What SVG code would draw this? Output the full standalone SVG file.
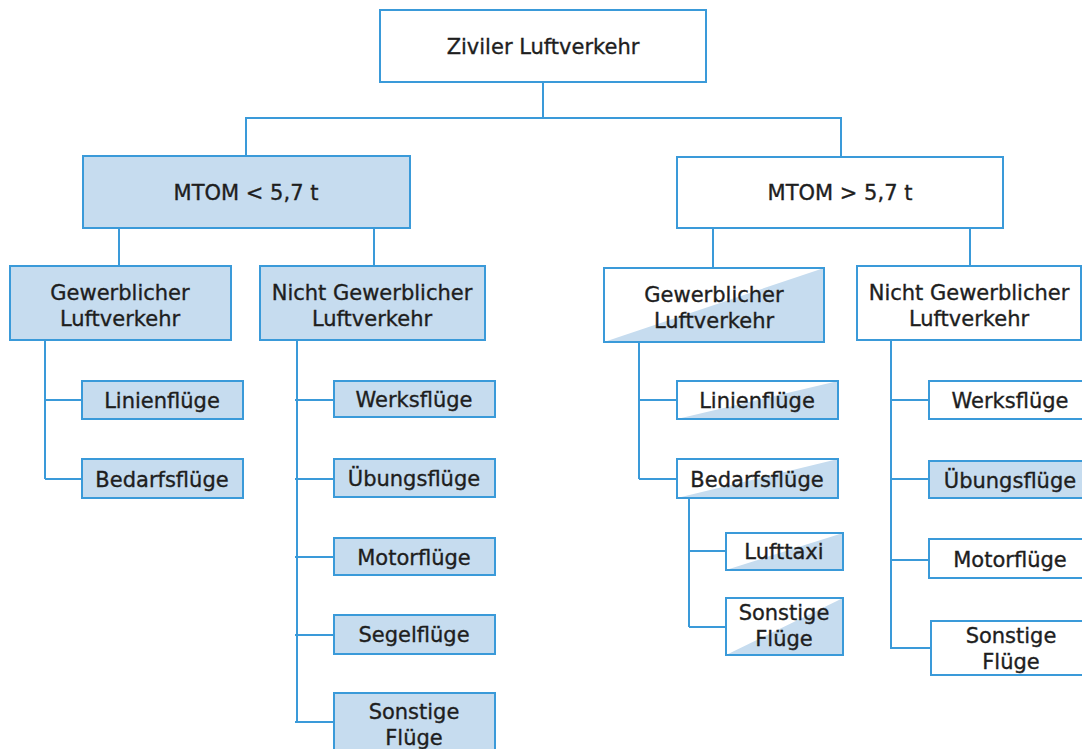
<svg xmlns="http://www.w3.org/2000/svg" width="1082" height="749" viewBox="0 0 1082 749">
<style>
.b{fill:#ffffff;stroke:#3a9ad9;stroke-width:2}
.f{fill:#c6dcef;stroke:#3a9ad9;stroke-width:2}
.o{fill:none;stroke:#3a9ad9;stroke-width:2}
.h{fill:#c6dcef;stroke:none}
.c{fill:none;stroke:#3a9ad9;stroke-width:2}
text{font-family:"DejaVu Sans","Liberation Sans",sans-serif;font-size:21px;fill:#1e1e1e;stroke:#1e1e1e;stroke-width:0.35;text-anchor:middle}
</style>
<rect width="1082" height="749" fill="#ffffff"/>
<g id="connectors">
<path class="c" d="M543 82V118M245 118H842M246 118V156M841 118V157"/>
<path class="c" d="M119 228V266M374 228V266M713 228V268M970 228V266"/>
<path class="c" d="M45 340V479M45 400H82M45 479H82"/>
<path class="c" d="M297 340V722M295 400H334M295 479H334M295 557H334M295 635H334M295 722H334"/>
<path class="c" d="M639 342V479M639 400H677M639 479H677"/>
<path class="c" d="M689 498V627M689 551H726M689 627H726"/>
<path class="c" d="M891 340V649M891 400H929M891 479H929M891 560H929M891 648H931"/>
</g>
<g id="n-root"><rect class="b" x="380" y="10" width="326" height="72"/><text x="543" y="54">Ziviler Luftverkehr</text></g>
<g id="n-mtom-lt"><rect class="f" x="83" y="156" width="327" height="72"/><text x="246" y="200">MTOM &lt; 5,7 t</text></g>
<g id="n-mtom-gt"><rect class="b" x="677" y="157" width="326" height="71"/><text x="840" y="200">MTOM &gt; 5,7 t</text></g>
<g id="n-l-gew"><rect class="f" x="10" y="266" width="221" height="74"/><text x="120" y="300">Gewerblicher</text><text x="120" y="326">Luftverkehr</text></g>
<g id="n-l-nicht"><rect class="f" x="260" y="266" width="225" height="74"/><text x="372" y="300">Nicht Gewerblicher</text><text x="372" y="326">Luftverkehr</text></g>
<g id="n-l-linien"><rect class="f" x="82" y="381" width="161" height="38"/><text x="162" y="408">Linienflüge</text></g>
<g id="n-l-bedarf"><rect class="f" x="82" y="459" width="161" height="39"/><text x="162" y="487">Bedarfsflüge</text></g>
<g id="n-l-werks"><rect class="f" x="334" y="381" width="161" height="36"/><text x="414" y="407">Werksflüge</text></g>
<g id="n-l-uebung"><rect class="f" x="334" y="459" width="161" height="38"/><text x="414" y="486">Übungsflüge</text></g>
<g id="n-l-motor"><rect class="f" x="334" y="538" width="161" height="37"/><text x="414" y="565">Motorflüge</text></g>
<g id="n-l-segel"><rect class="f" x="334" y="615" width="161" height="39"/><text x="414" y="642">Segelflüge</text></g>
<g id="n-l-sonst"><rect class="f" x="334" y="693" width="161" height="70"/><text x="414" y="719">Sonstige</text><text x="414" y="745">Flüge</text></g>
<g id="n-r-gew"><rect fill="#ffffff" x="604" y="268" width="220" height="74"/><polygon class="h" points="604,342 824,268 824,342"/><rect class="o" x="604" y="268" width="220" height="74"/><text x="714" y="302">Gewerblicher</text><text x="714" y="328">Luftverkehr</text></g>
<g id="n-r-nicht"><rect class="b" x="857" y="266" width="224" height="74"/><text x="969" y="300">Nicht Gewerblicher</text><text x="969" y="326">Luftverkehr</text></g>
<g id="n-r-linien"><rect fill="#ffffff" x="677" y="381" width="161" height="38"/><polygon class="h" points="677,419 838,381 838,419"/><rect class="o" x="677" y="381" width="161" height="38"/><text x="757" y="408">Linienflüge</text></g>
<g id="n-r-bedarf"><rect fill="#ffffff" x="677" y="459" width="161" height="39"/><polygon class="h" points="677,498 838,459 838,498"/><rect class="o" x="677" y="459" width="161" height="39"/><text x="757" y="487">Bedarfsflüge</text></g>
<g id="n-r-taxi"><rect fill="#ffffff" x="726" y="533" width="117" height="37"/><polygon class="h" points="726,570 843,533 843,570"/><rect class="o" x="726" y="533" width="117" height="37"/><text x="784" y="559">Lufttaxi</text></g>
<g id="n-r-sonst1"><rect fill="#ffffff" x="726" y="598" width="117" height="57"/><polygon class="h" points="726,655 843,598 843,655"/><rect class="o" x="726" y="598" width="117" height="57"/><text x="784" y="620">Sonstige</text><text x="784" y="646">Flüge</text></g>
<g id="n-r-werks"><rect class="b" x="929" y="381" width="162" height="38"/><text x="1010" y="408">Werksflüge</text></g>
<g id="n-r-uebung"><rect class="f" x="929" y="461" width="162" height="37"/><text x="1010" y="488">Übungsflüge</text></g>
<g id="n-r-motor"><rect class="b" x="929" y="539" width="162" height="39"/><text x="1010" y="567">Motorflüge</text></g>
<g id="n-r-sonst2"><rect class="b" x="931" y="621" width="162" height="54"/><text x="1011" y="643">Sonstige</text><text x="1011" y="669">Flüge</text></g>
</svg>
